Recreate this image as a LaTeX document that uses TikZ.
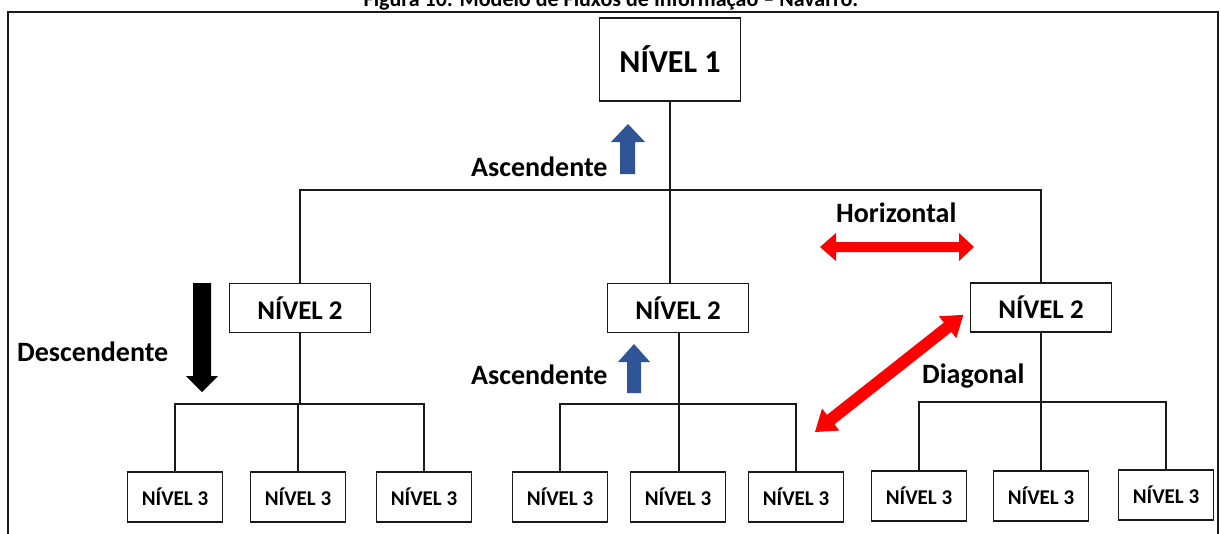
\documentclass[tikz,border=0pt]{standalone}
\usepackage{fontspec}
\setmainfont{Carlito}
\definecolor{ascblue}{HTML}{2F5597}
\definecolor{flowred}{HTML}{FF0000}
\definecolor{ink}{HTML}{1A1A1A}
\begin{document}
\begin{tikzpicture}[x=1pt,y=-1pt,
  box/.style={draw=ink, line width=1.1pt, fill=white, inner sep=0pt},
  lvlone/.style={box, minimum width=141pt, minimum height=83pt, font=\bfseries\fontsize{32}{34}\selectfont},
  lvltwo/.style={box, minimum width=141pt, minimum height=49pt, font=\bfseries\fontsize{27}{29}\selectfont},
  lvlthree/.style={box, minimum width=95pt, minimum height=50pt, font=\bfseries\fontsize{21}{23}\selectfont},
  link/.style={draw=ink, line width=1.2pt},
  flowlabel/.style={font=\bfseries\fontsize{28}{30}\selectfont, inner sep=0pt, anchor=base west}
]
\clip (0,0) rectangle (1221,533);
\fill[white] (0,0) rectangle (1221,533);

% caption above the frame
\node[font=\bfseries\fontsize{22}{24}\selectfont, anchor=base, inner sep=0pt] (caption) at (611,6)
  {Figura 10: Modelo de Fluxos de Informação – Navarro.};

% outer frame
\draw[line width=2pt, ink] (8,545) -- (8,12) -- (1218,12) -- (1218,545);

% level 1
\node[lvlone] (n1) at (670,59.5) {NÍVEL 1};

% level 2
\node[lvltwo] (n2a) at (300,308) {NÍVEL 2};
\node[lvltwo] (n2b) at (678,308) {NÍVEL 2};
\node[lvltwo] (n2c) at (1041,307.5) {NÍVEL 2};

% level 3
\node[lvlthree] (n3a1) at (175,497) {NÍVEL 3};
\node[lvlthree] (n3a2) at (298,497) {NÍVEL 3};
\node[lvlthree] (n3a3) at (424,497) {NÍVEL 3};
\node[lvlthree] (n3b1) at (560,497) {NÍVEL 3};
\node[lvlthree] (n3b2) at (678,497) {NÍVEL 3};
\node[lvlthree] (n3b3) at (796,497) {NÍVEL 3};
\node[lvlthree] (n3c1) at (919,496) {NÍVEL 3};
\node[lvlthree] (n3c2) at (1041,496) {NÍVEL 3};
\node[lvlthree] (n3c3) at (1166,495) {NÍVEL 3};

% junction points of the tree
\coordinate (j1) at (670,190);
\coordinate (ja) at (300,404);
\coordinate (jb) at (679,404);
\coordinate (jc) at (1041,402);

% level 1 -> level 2
\draw[link] (n1.south) -- (j1);
\draw[link] (n2a.north) |- (j1) -| (n2c.north);
\draw[link] (j1) -- (j1 |- n2b.north);

% level 2 -> level 3
\draw[link] (n2a.south) -- (ja);
\draw[link] (n3a1.north) |- (ja) -| (n3a3.north);
\draw[link] (n3a2.north) -- (n3a2.north |- ja);

\draw[link] (jb |- n2b.south) -- (jb);
\draw[link] (n3b1.north) |- (jb) -| (n3b3.north);
\draw[link] (jb) -- (jb |- n3b2.north);

\draw[link] (n2c.south) -- (jc);
\draw[link] (n3c1.north) |- (jc) -| (n3c3.north);
\draw[link] (jc) -- (jc |- n3c2.north);

% flow arrows
\fill[ascblue] (628,124) -- (645,142) -- (635,142) -- (635,174) -- (620,174) -- (620,142) -- (611,142) -- cycle;
\fill[ascblue] (634,344) -- (650,362) -- (641,362) -- (641,393) -- (627,393) -- (627,362) -- (618,362) -- cycle;
\fill[black] (193,283) -- (211,283) -- (211,376) -- (218,376) -- (202,392) -- (186,376) -- (193,376) -- cycle;
\fill[flowred] (820,247) -- (836,233) -- (836,242) -- (959,242) -- (959,233) -- (974,247)
  -- (959,261) -- (959,252) -- (836,252) -- (836,261) -- cycle;
\begin{scope}[shift={(815,432)}, rotate=38.3]
  \fill[flowred] (0,0) -- (20,14) -- (20,6) -- (169,6) -- (169,14) -- (189,0)
    -- (169,-14) -- (169,-6) -- (20,-6) -- (20,-14) -- cycle;
\end{scope}

% flow labels
\node[flowlabel] (lasc1) at (471,176) {Ascendente};
\node[flowlabel] (lasc2) at (471,384) {Ascendente};
\node[flowlabel] (ldesc) at (17,361) {Descendente};
\node[flowlabel] (lhor) at (836,222) {Horizontal};
\node[flowlabel] (ldiag) at (922,383) {Diagonal};
\end{tikzpicture}
\end{document}
